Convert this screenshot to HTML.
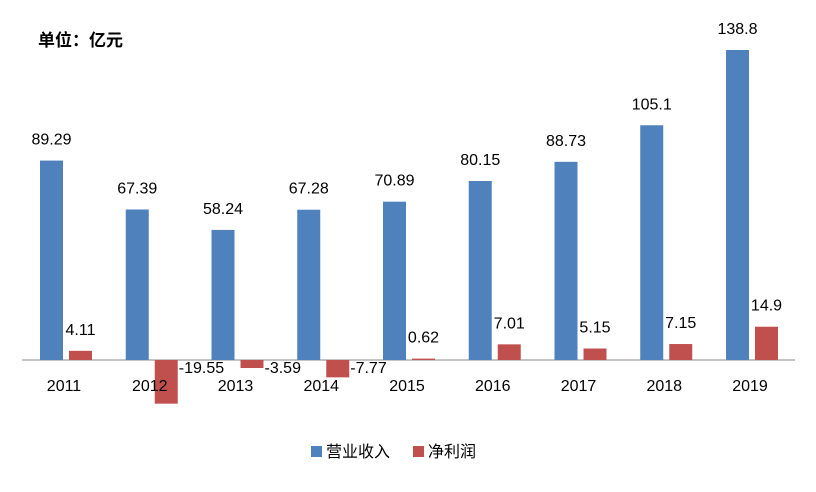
<!DOCTYPE html>
<html><head><meta charset="utf-8">
<style>
body{margin:0;background:#fff;}
svg text{font-family:"Liberation Sans","Noto Sans CJK SC",sans-serif;}
</style></head>
<body>
<svg id="chart" width="816" height="487" viewBox="0 0 816 487" xmlns="http://www.w3.org/2000/svg">
<rect width="816" height="487" fill="#fff"/>
<text x="38" y="46" font-size="17" font-weight="bold" fill="#000">单位：亿元</text>
<line x1="22" y1="360" x2="795" y2="360" stroke="#888" stroke-width="1"/>
<g id="bars"></g>
<g>
<rect x="311" y="446" width="11" height="11" fill="#4F81BD"/>
<text x="326" y="457" font-size="16" fill="#000">营业收入</text>
<rect x="413" y="446" width="11" height="11" fill="#C0504D"/>
<text x="428" y="457" font-size="16" fill="#000">净利润</text>
</g>
</svg>
<script>
const categories=["2011","2012","2013","2014","2015","2016","2017","2018","2019"];
const revenue=[89.29,67.39,58.24,67.28,70.89,80.15,88.73,105.1,138.8];
const profit=[4.11,-19.55,-3.59,-7.77,0.62,7.01,5.15,7.15,14.9];
const revenueLabels=["89.29","67.39","58.24","67.28","70.89","80.15","88.73","105.1","138.8"];
const profitLabels=["4.11","-19.55","-3.59","-7.77","0.62","7.01","5.15","7.15","14.9"];

const NS="http://www.w3.org/2000/svg";
const baseY=360, scale=310/138.8;
const x0=66, step=85.75, bw=23, gap=6;
function y(v){return baseY - v*scale;}
function cx(i){return x0+i*step;}
const g=document.getElementById('bars');
function mk(tag,attrs){const e=document.createElementNS(NS,tag);for(const k in attrs)e.setAttribute(k,attrs[k]);return e;}
categories.forEach((c,i)=>{
  const bx=cx(i)-gap/2-bw, rx=cx(i)+gap/2;
  const rv=revenue[i], pv=profit[i];
  const b=mk('rect',{x:bx,y:Math.min(y(rv),baseY),width:bw,height:Math.abs(y(rv)-baseY),fill:'#4F81BD'});
  
  
  g.appendChild(b);
  const r=mk('rect',{x:rx,y:Math.min(y(pv),baseY),width:bw,height:Math.abs(y(pv)-baseY),fill:'#C0504D'});
  
  
  g.appendChild(r);
  const tl=mk('text',{x:bx+bw/2,y:y(rv)-16,'font-size':16,'text-anchor':'middle',fill:'#000'});
  tl.textContent=revenueLabels[i];
  
  
  g.appendChild(tl);
  let pl;
  if(pv>=0){pl=mk('text',{x:rx+bw/2,y:y(pv)-16,'font-size':16,'text-anchor':'middle',fill:'#000'});}
  else{pl=mk('text',{x:rx+bw+1,y:373,'font-size':16,'text-anchor':'start',fill:'#000'});}
  pl.textContent=profitLabels[i];
  
  
  g.appendChild(pl);
  const xl=mk('text',{x:cx(i)-2,y:391,'font-size':16,'text-anchor':'middle',fill:'#000'});
  xl.textContent=c;
  
  
  g.appendChild(xl);
});
</script>
</body></html>
